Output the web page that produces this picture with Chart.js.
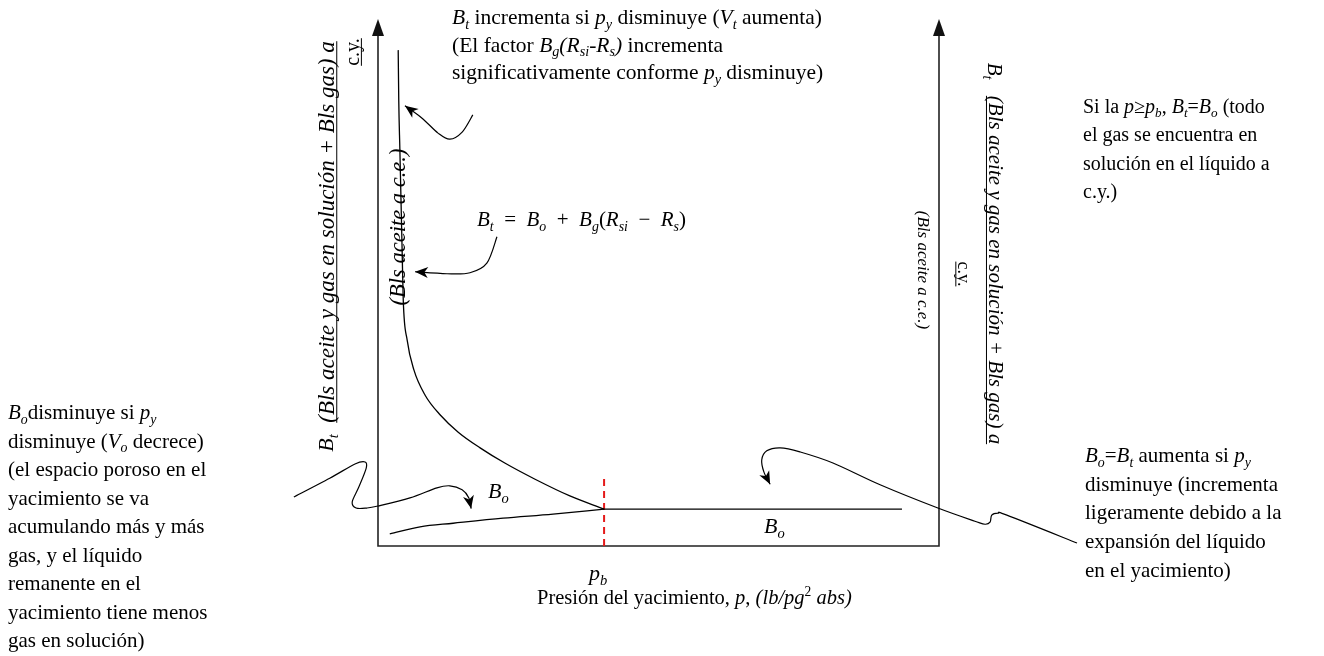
<!DOCTYPE html>
<html>
<head>
<meta charset="utf-8">
<script src="https://cdn.jsdelivr.net/npm/chart.js@4/dist/chart.umd.min.js"></script>
<style>
  html, body { margin: 0; padding: 0; background: #fff; }
  canvas { display: block; }
</style>
</head>
<body>
<canvas id="c" width="1324" height="656"></canvas>
<script>
// Schematic of the total (Bt) and oil (Bo) formation volume factors versus
// reservoir pressure. Relative units: pressure 0–100, volume factor 0–100.
const pb = 40.3;                                   // bubble-point pressure
const pBelowPb = [3.6, 3.7, 3.9, 4.1, 4.3, 4.5, 5.2, 6.4, 8.4, 11.1, 14.3, 18.2, 22.6, 28.0, 34.2, 40.3];
const btBelowPb = [98.0, 88.1, 78.3, 68.4, 58.5, 48.6, 40.7, 34.8, 29.8, 25.9, 22.5, 19.4, 16.4, 13.2, 9.9, 7.3];
const pBoBelowPb = [2.1, 7.5, 13.4, 22.3, 31.2, 40.3];
const boBelowPb = [2.4, 3.8, 4.5, 5.5, 6.3, 7.3];
const pAbovePb = [40.3, 93.4];
const boAbovePb = [7.3, 7.3];
const pbMarkerY = [0, 14.2];

const toXY = (xs, ys) => xs.map((x, i) => ({ x, y: ys[i] }));

const SERIF = '"Liberation Serif","Times New Roman",serif';

// ---- rich text helpers: segments are [text, style]; style 'i' italic, 'b' subscript, 'p' superscript
function fontFor(st, size) {
  const s = (st.includes('b') || st.includes('p')) ? size * 0.66 : size;
  return (st.includes('i') ? 'italic ' : '') + s.toFixed(2) + 'px ' + SERIF;
}
function richWidth(ctx, segs, size) {
  let w = 0;
  for (const [t, st = ''] of segs) { ctx.font = fontFor(st, size); w += ctx.measureText(t).width; }
  return w;
}
function drawRich(ctx, x, y, segs, size, align = 'left', underline = false) {
  const w = richWidth(ctx, segs, size);
  let cx = align === 'center' ? x - w / 2 : x;
  const x0 = cx;
  ctx.textBaseline = 'alphabetic';
  ctx.textAlign = 'left';
  for (const [t, st = ''] of segs) {
    ctx.font = fontFor(st, size);
    const dy = st.includes('b') ? size * 0.22 : (st.includes('p') ? -size * 0.38 : 0);
    ctx.fillText(t, cx, y + dy);
    cx += ctx.measureText(t).width;
  }
  if (underline) {
    ctx.save();
    ctx.lineWidth = 1;
    ctx.beginPath();
    ctx.moveTo(x0, y + size * 0.12);
    ctx.lineTo(x0 + w, y + size * 0.12);
    ctx.stroke();
    ctx.restore();
  }
  return w;
}
function drawBlock(ctx, x, y, lines, size, lead) {
  lines.forEach((segs, i) => drawRich(ctx, x, y + i * lead, typeof segs === 'string' ? [[segs]] : segs, size));
}

// ---- text content
const noteTop = [
  [['B', 'i'], ['t', 'ib'], [' incrementa si '], ['p', 'i'], ['y', 'ib'], [' disminuye ('], ['V', 'i'], ['t', 'ib'], [' aumenta)']],
  [['(El factor '], ['B', 'i'], ['g', 'ib'], ['(R', 'i'], ['si', 'ib'], ['-R', 'i'], ['s', 'ib'], [')', 'i'], [' incrementa']],
  [['significativamente conforme '], ['p', 'i'], ['y', 'ib'], [' disminuye)']]
];
const noteRightTop = [
  [['Si la '], ['p≥p', 'i'], ['b', 'ib'], [', '], ['B', 'i'], ['t', 'ib'], ['='], ['B', 'i'], ['o', 'ib'], [' (todo']],
  'el gas se encuentra en',
  'solución en el líquido a',
  'c.y.)'
];
const noteRightBottom = [
  [['B', 'i'], ['o', 'ib'], ['='], ['B', 'i'], ['t', 'ib'], [' aumenta si '], ['p', 'i'], ['y', 'ib']],
  'disminuye (incrementa',
  'ligeramente debido a la',
  'expansión del líquido',
  'en el yacimiento)'
];
const noteLeft = [
  [['B', 'i'], ['o', 'ib'], ['disminuye si '], ['p', 'i'], ['y', 'ib']],
  [['disminuye ('], ['V', 'i'], ['o', 'ib'], [' decrece)']],
  '(el espacio poroso en el',
  'yacimiento se va',
  'acumulando más y más',
  'gas, y el líquido',
  'remanente en el',
  'yacimiento tiene menos',
  'gas en solución)'
];
const equation = [['B', 'i'], ['t', 'ib'], ['\u2002=\u2002'], ['B', 'i'], ['o', 'ib'], ['\u2002+\u2002'], ['B', 'i'], ['g', 'ib'],
  ['('], ['R', 'i'], ['si', 'ib'], ['\u2002−\u2002'], ['R', 'i'], ['s', 'ib'], [')']];
const xTitle = [['Presión del yacimiento, '], ['p', 'i'], [', '], ['(lb/pg', 'i'], ['2', 'p'], [' abs)', 'i']];
const numer = [['(Bls aceite y gas en solución + Bls gas) a', 'i']];
const denom = [['(Bls aceite a c.e.)', 'i']];
const btSym = [['B', 'i'], ['t', 'ib']];
const boSym = [['B', 'i'], ['o', 'ib']];

// ---- callout arrows, in chart units (pressure, volume factor)
const callouts = [
  [[16.9, 85.2], [15.0, 81.8], [12.8, 80.4], [10.7, 81.6], [7.8, 84.6], [4.8, 87.0]],
  [[21.2, 61.1], [19.4, 55.9], [16.4, 54.0], [12.3, 53.8], [6.6, 54.2]],
  [[-15.0, 9.7], [-8.6, 13.4], [-4.1, 16.2], [-2.3, 16.6], [-2.1, 15.4], [-3.4, 11.7], [-4.6, 8.7],
   [-3.9, 7.5], [-2.0, 7.5], [0, 7.9], [5.7, 9.5], [10.5, 11.5], [12.8, 11.9], [15.0, 11.1], [16.2, 9.5], [16.6, 7.4]],
  [[124.6, 0.6], [112.1, 6.1], [110.5, 6.5], [109.4, 6.1], [109.1, 4.7], [108.2, 4.3], [106.4, 4.9],
   [99.8, 7.5], [89.5, 12.1], [81.1, 16.4], [75.2, 18.6], [71.7, 19.4], [69.3, 18.8], [68.4, 17.0], [68.8, 14.6], [69.9, 12.2]]
];

function smoothPath(ctx, pts) {
  ctx.moveTo(pts[0].x, pts[0].y);
  for (let i = 0; i < pts.length - 1; i++) {
    const p0 = pts[i - 1] || pts[i], p1 = pts[i], p2 = pts[i + 1], p3 = pts[i + 2] || p2;
    ctx.bezierCurveTo(p1.x + (p2.x - p0.x) / 6, p1.y + (p2.y - p0.y) / 6,
                      p2.x - (p3.x - p1.x) / 6, p2.y - (p3.y - p1.y) / 6, p2.x, p2.y);
  }
}
function arrowHead(ctx, tip, from, len = 13, half = 5.5) {
  const dx = tip.x - from.x, dy = tip.y - from.y, d = Math.hypot(dx, dy) || 1;
  const ux = dx / d, uy = dy / d, nx = -uy, ny = ux;
  const bx = tip.x - ux * len, by = tip.y - uy * len;
  ctx.beginPath();
  ctx.moveTo(tip.x, tip.y);
  ctx.lineTo(bx + nx * half, by + ny * half);
  ctx.lineTo(tip.x - ux * len * 0.72, tip.y - uy * len * 0.72);
  ctx.lineTo(bx - nx * half, by - ny * half);
  ctx.closePath();
  ctx.fill();
}

const diagram = {
  id: 'diagram',
  beforeDatasetsDraw(chart) {
    const { ctx, chartArea: a } = chart;
    ctx.save();
    ctx.strokeStyle = '#222';
    ctx.fillStyle = '#111';
    ctx.lineWidth = 1.6;
    // frame: two vertical axes with arrowheads and the pressure axis
    ctx.beginPath();
    ctx.moveTo(a.left, a.top - 8);
    ctx.lineTo(a.left, a.bottom);
    ctx.lineTo(a.right, a.bottom);
    ctx.lineTo(a.right, a.top - 8);
    ctx.stroke();
    for (const x of [a.left, a.right]) {
      ctx.beginPath();
      ctx.moveTo(x, a.top - 21);
      ctx.lineTo(x - 6, a.top - 4);
      ctx.lineTo(x + 6, a.top - 4);
      ctx.closePath();
      ctx.fill();
    }
    ctx.restore();
  },
  afterDatasetsDraw(chart) {
    const { ctx, scales: { x: sx, y: sy } } = chart;
    ctx.save();
    ctx.fillStyle = '#000';
    ctx.strokeStyle = '#000';

    // callout arrows
    ctx.lineWidth = 1.2;
    for (const c of callouts) {
      const pts = c.map(([px, py]) => ({ x: sx.getPixelForValue(px), y: sy.getPixelForValue(py) }));
      ctx.beginPath();
      smoothPath(ctx, pts);
      ctx.stroke();
      arrowHead(ctx, pts[pts.length - 1], pts[pts.length - 2]);
    }

    // annotation blocks
    drawBlock(ctx, 452, 24, noteTop, 21.5, 27.6);
    drawBlock(ctx, 1083, 113, noteRightTop, 20, 28.3);
    drawBlock(ctx, 1085, 462, noteRightBottom, 21, 28.7);
    drawBlock(ctx, 8, 419, noteLeft, 21, 28.5);
    drawRich(ctx, 477, 226, equation, 21);

    // curve labels
    drawRich(ctx, 488, 498, boSym, 22);
    drawRich(ctx, 764, 533, boSym, 22);
    drawRich(ctx, sx.getPixelForValue(pb) - 6, 580, [['p', 'i'], ['b', 'ib']], 22, 'center');
    drawRich(ctx, 537, 604, xTitle, 20.5);

    // left axis title, reading upward
    const rot = (x, y, ang, fn) => { ctx.save(); ctx.translate(x, y); ctx.rotate(ang); fn(); ctx.restore(); };
    rot(333, 443, -Math.PI / 2, () => drawRich(ctx, 0, 0, btSym, 22, 'center'));
    rot(334, 232, -Math.PI / 2, () => drawRich(ctx, 0, 0, numer, 23, 'center', true));
    rot(359, 52, -Math.PI / 2, () => drawRich(ctx, 0, 0, [['c.y.']], 20, 'center', true));
    rot(405, 227, -Math.PI / 2, () => drawRich(ctx, 0, 0, denom, 22.5, 'center'));

    // right axis title, reading downward
    rot(988, 71, Math.PI / 2, () => drawRich(ctx, 0, 0, btSym, 21, 'center'));
    rot(989, 270, Math.PI / 2, () => drawRich(ctx, 0, 0, numer, 21, 'center', true));
    rot(958, 274, Math.PI / 2, () => drawRich(ctx, 0, 0, [['c.y.']], 18, 'center', true));
    rot(918, 270, Math.PI / 2, () => drawRich(ctx, 0, 0, denom, 17, 'center'));

    ctx.restore();
  }
};

const lineStyle = { borderColor: '#000', borderWidth: 1.3, pointRadius: 0, showLine: true, fill: false };

new Chart(document.getElementById('c'), {
  type: 'scatter',
  data: {
    datasets: [
      { label: 'Bt', data: toXY(pBelowPb, btBelowPb), cubicInterpolationMode: 'monotone', ...lineStyle },
      { label: 'Bo (p < pb)', data: toXY(pBoBelowPb, boBelowPb), cubicInterpolationMode: 'monotone', ...lineStyle },
      { label: 'Bo = Bt (p ≥ pb)', data: toXY(pAbovePb, boAbovePb), ...lineStyle },
      { label: 'pb', data: toXY([pb, pb], pbMarkerY), ...lineStyle, borderColor: '#e41a1a', borderWidth: 2, borderDash: [7, 5] }
    ]
  },
  options: {
    responsive: false,
    animation: false,
    devicePixelRatio: 1,
    layout: { padding: { left: 378, right: 385, top: 40, bottom: 110 } },
    scales: {
      x: { type: 'linear', min: 0, max: 100, display: false },
      y: { type: 'linear', min: 0, max: 100, display: false }
    },
    plugins: { legend: { display: false }, tooltip: { enabled: false } }
  },
  plugins: [diagram]
});
</script>
</body>
</html>
